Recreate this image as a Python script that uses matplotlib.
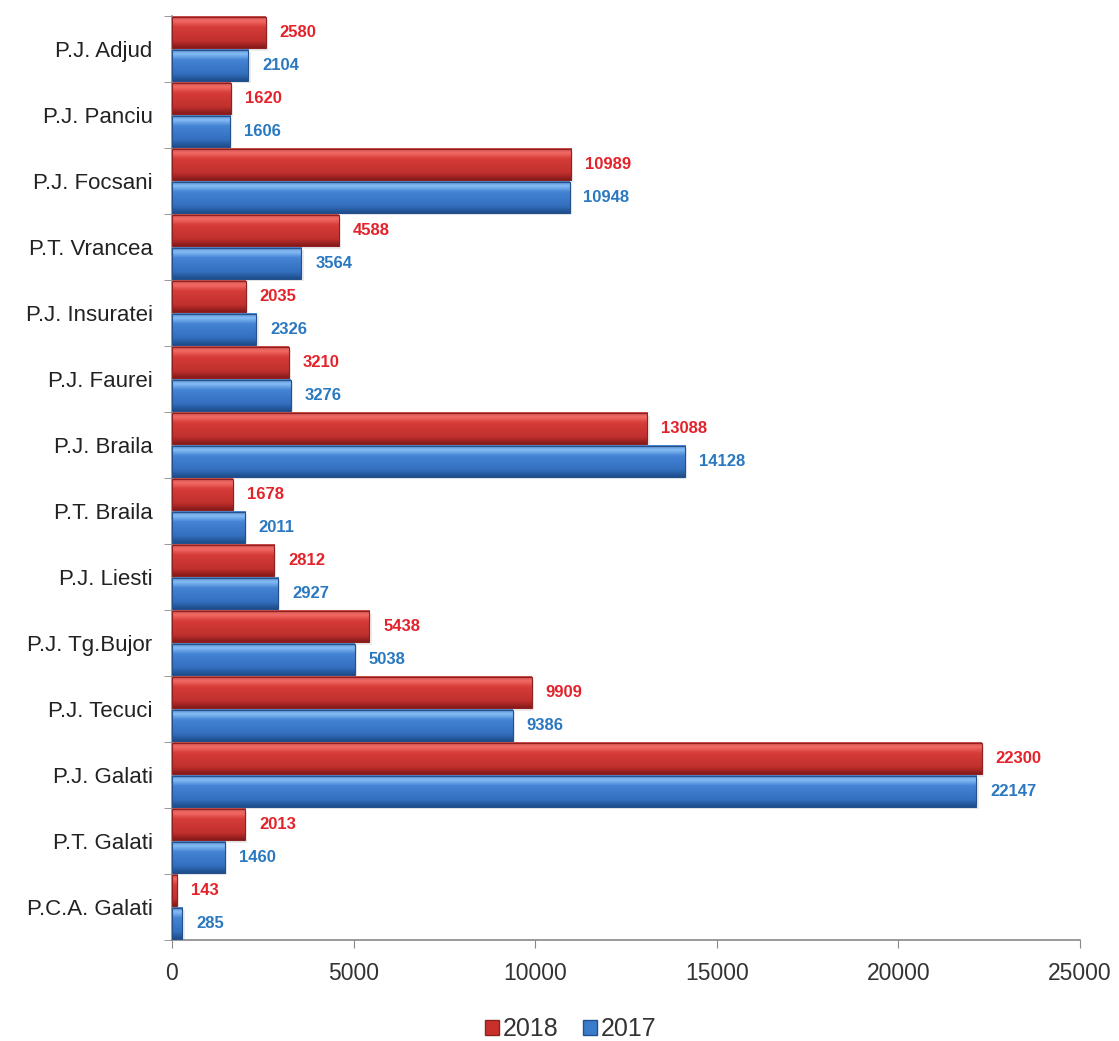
import numpy as np
import matplotlib.pyplot as plt
from matplotlib.colors import LinearSegmentedColormap
from matplotlib.patches import Rectangle


# chart data (top to bottom)
categories = [
    "P.J. Adjud", "P.J. Panciu", "P.J. Focsani", "P.T. Vrancea",
    "P.J. Insuratei", "P.J. Faurei", "P.J. Braila", "P.T. Braila",
    "P.J. Liesti", "P.J. Tg.Bujor", "P.J. Tecuci", "P.J. Galati",
    "P.T. Galati", "P.C.A. Galati",
]
values_2018 = [2580, 1620, 10989, 4588, 2035, 3210, 13088, 1678,
               2812, 5438, 9909, 22300, 2013, 143]
values_2017 = [2104, 1606, 10948, 3564, 2326, 3276, 14128, 2011,
               2927, 5038, 9386, 22147, 1460, 285]
series_names = ["2018", "2017"]

# styles
FONT = "Liberation Sans"
RED_LABEL = "#E3232B"
BLUE_LABEL = "#2A78C0"
BAR_HEIGHT = 0.47
BAR_OFFSET = 0.245

red_cmap = LinearSegmentedColormap.from_list(
    "red3d",
    [(0.0, "#C94A46"), (0.14, "#F26B66"), (0.34, "#D63C38"),
     (0.78, "#C0302D"), (1.0, "#861A1A")],
)
blue_cmap = LinearSegmentedColormap.from_list(
    "blue3d",
    [(0.0, "#4C82C8"), (0.14, "#86BDF5"), (0.34, "#4483D4"),
     (0.78, "#336FBE"), (1.0, "#1E4C8A")],
)

plt.rcParams["font.family"] = [FONT, "DejaVu Sans"]

fig = plt.figure(figsize=(11.19, 10.41), dpi=100)
ax = fig.add_axes([0.1537, 0.097, 0.8114, 0.8876])

gradient = np.linspace(0, 1, 64).reshape(-1, 1)
y_pos = np.arange(len(categories))


def draw_bar(ax, value, y_center, cmap, edge):
    y0 = y_center - BAR_HEIGHT / 2
    y1 = y_center + BAR_HEIGHT / 2
    # soft shadow under the bar
    ax.add_patch(Rectangle((0, y0 + 0.04), value + 60, BAR_HEIGHT,
                           facecolor="#000000", alpha=0.08, lw=0, zorder=1))
    # y axis is inverted, so the first gradient row sits at the top edge
    ax.imshow(gradient, cmap=cmap, aspect="auto", interpolation="bilinear",
              extent=[0, value, y1, y0], zorder=2)
    ax.add_patch(Rectangle((0, y0), value, BAR_HEIGHT, facecolor="none",
                           edgecolor=edge, lw=0.8, zorder=3))


for i in range(len(categories)):
    draw_bar(ax, values_2018[i], y_pos[i] - BAR_OFFSET, red_cmap, "#8E2222")
    draw_bar(ax, values_2017[i], y_pos[i] + BAR_OFFSET, blue_cmap, "#24508C")
    ax.text(values_2018[i] + 380, y_pos[i] - BAR_OFFSET, str(values_2018[i]),
            color=RED_LABEL, fontsize=12, fontweight="bold", va="center",
            ha="left", zorder=4)
    ax.text(values_2017[i] + 380, y_pos[i] + BAR_OFFSET, str(values_2017[i]),
            color=BLUE_LABEL, fontsize=12, fontweight="bold", va="center",
            ha="left", zorder=4)

ax.set_xlim(0, 25000)
ax.set_ylim(len(categories) - 0.5, -0.5)
ax.set_xticks(np.arange(0, 25001, 5000))
ax.set_xticklabels([str(v) for v in range(0, 25001, 5000)], fontsize=16.5,
                   color="#333333")
ax.set_yticks(y_pos)
ax.set_yticklabels(categories, fontsize=16, color="#222222")
ax.tick_params(axis="y", length=0, pad=14)
ax.set_yticks(np.arange(-0.5, len(categories), 1), minor=True)
ax.tick_params(axis="y", which="minor", length=6, color="#888888")
ax.tick_params(axis="x", length=6, color="#888888", pad=10)

for side in ["top", "right"]:
    ax.spines[side].set_visible(False)
for side in ["left", "bottom"]:
    ax.spines[side].set_color("#888888")
    ax.spines[side].set_linewidth(1.2)

handles = [
    Rectangle((0, 0), 1, 1, facecolor="#C9302C", edgecolor="#8E2222"),
    Rectangle((0, 0), 1, 1, facecolor="#3A7BCB", edgecolor="#24508C"),
]
fig.legend(handles, series_names, loc="lower center", ncol=2,
           bbox_to_anchor=(0.51, -0.022), frameon=False, fontsize=18,
           handlelength=0.55, handleheight=0.55, handletextpad=0.15,
           columnspacing=1.0, labelcolor="#333333")

fig.savefig("out.png", dpi=100)
